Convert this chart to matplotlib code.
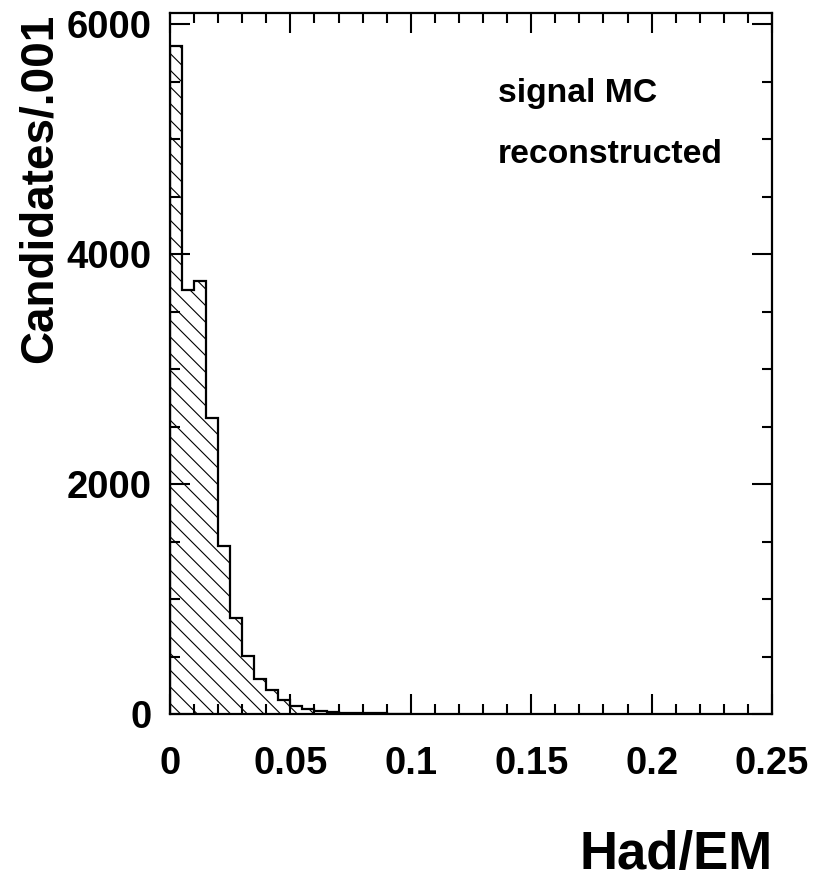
import matplotlib
matplotlib.use("Agg")
import matplotlib.pyplot as plt
import numpy as np
from matplotlib.ticker import MultipleLocator, FixedLocator, FixedFormatter

# ---- data ----
bin_width = 0.005
counts = [5810, 3690, 3770, 2575, 1465, 835, 508, 302, 209, 122,
          70, 44, 26, 18, 13, 9, 6, 5, 3, 2]
x_ticks = [0, 0.05, 0.1, 0.15, 0.2, 0.25]
x_tick_labels = ["0", "0.05", "0.1", "0.15", "0.2", "0.25"]
y_ticks = [0, 2000, 4000, 6000]
y_tick_labels = ["0", "2000", "4000", "6000"]
x_label = "Had/EM"
y_label = "Candidates/.001"
annotations = ["signal MC", "reconstructed"]

plt.rcParams['font.family'] = ['Liberation Sans', 'DejaVu Sans']
plt.rcParams['font.weight'] = 'bold'
plt.rcParams['hatch.linewidth'] = 0.8
plt.rcParams['hatch.color'] = 'black'

W, H = 818, 880
fig = plt.figure(figsize=(W / 100, H / 100), dpi=100)
ax = fig.add_axes([170 / W, 1 - 714 / H, (772 - 170) / W, (714 - 13) / H])

edges = np.arange(len(counts) + 1) * bin_width
ax.stairs(counts, edges, fill=True, hatch='\\\\', facecolor='white',
          edgecolor='black', linewidth=0)
ax.stairs(counts, edges, fill=False, color='black', linewidth=1.6, baseline=0)

ax.set_xlim(0, 0.25)
ax.set_ylim(0, 6100)

ax.xaxis.set_major_locator(FixedLocator(x_ticks))
ax.xaxis.set_major_formatter(FixedFormatter(x_tick_labels))
ax.xaxis.set_minor_locator(MultipleLocator(0.01))
ax.yaxis.set_major_locator(FixedLocator(y_ticks))
ax.yaxis.set_major_formatter(FixedFormatter(y_tick_labels))
ax.yaxis.set_minor_locator(MultipleLocator(500))

for s in ax.spines.values():
    s.set_linewidth(1.6)

ax.tick_params(which='both', direction='in', top=True, right=True, width=1.5)
ax.tick_params(which='major', length=14.5)
ax.tick_params(which='minor', length=7.5)
ax.tick_params(axis='x', which='major', labelsize=27.5, pad=23)
ax.tick_params(axis='y', which='major', labelsize=27.5, pad=13)
for lab in ax.get_xticklabels() + ax.get_yticklabels():
    lab.set_fontweight('bold')

fig.text(498 / W, 1 - 101.7 / H, annotations[0], fontsize=24.3, fontweight='bold',
         ha='left', va='baseline')
fig.text(498 / W, 1 - 163 / H, annotations[1], fontsize=24.3, fontweight='bold',
         ha='left', va='baseline')

fig.text(773 / W, 1 - 869 / H, x_label, fontsize=38, fontweight='bold',
         ha='right', va='baseline')
fig.text(52 / W, 1 - 188 / H, y_label, fontsize=33, fontweight='bold',
         rotation=90, rotation_mode='anchor', ha='center', va='baseline')

fig.savefig("out.png", dpi=100, facecolor='white')
